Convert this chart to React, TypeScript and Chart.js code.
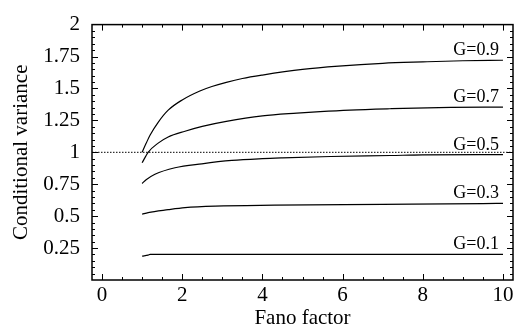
import { useEffect, useRef } from "react";
import { Chart, registerables } from "chart.js";

Chart.register(...registerables);

// ---- data ----
const xTickValues = [0, 2, 4, 6, 8, 10];
const yTickValues = [0.25, 0.5, 0.75, 1, 1.25, 1.5, 1.75, 2];
const seriesLabels = ["G=0.9", "G=0.7", "G=0.5", "G=0.3", "G=0.1"];

const fanoG09 = [1, 1.1, 1.2, 1.4, 1.65, 2.0, 2.44, 2.74, 3.1, 3.5, 4.0, 5.0, 5.9, 7.0, 8.0, 9.0, 10];
const varG09 = [1.0, 1.07, 1.136, 1.235, 1.33, 1.41, 1.48, 1.515, 1.548, 1.578, 1.605, 1.649, 1.675, 1.697, 1.708, 1.717, 1.721];

const fanoG07 = [1, 1.15, 1.4, 1.65, 2.07, 2.5, 3.1, 4.0, 4.86, 5.44, 6.18, 7.18, 8.7, 10];
const varG07 = [0.918, 1.0, 1.072, 1.12, 1.165, 1.203, 1.242, 1.285, 1.307, 1.319, 1.331, 1.341, 1.352, 1.354];

const fanoG05 = [1, 1.1, 1.32, 1.82, 2.49, 3.24, 4.0, 4.5, 5.7, 7.2, 8.0, 10];
const varG05 = [0.756, 0.785, 0.828, 0.879, 0.91, 0.936, 0.95, 0.956, 0.967, 0.975, 0.98, 0.982];

const fanoG03 = [1, 1.15, 1.65, 2.07, 2.82, 4.3, 7, 9.5, 10];
const varG03 = [0.515, 0.528, 0.551, 0.567, 0.579, 0.586, 0.592, 0.598, 0.6];

const fanoG01 = [1, 1.15, 1.2, 10];
const varG01 = [0.187, 0.195, 0.2, 0.2];

const refLineX = [-0.25, 10.25];
const refLineY = [1, 1];

const xRange = [-0.25, 10.25];
const yRange = [0, 2.0];

const FONT = "'Liberation Serif', 'Times New Roman', serif";

const zip = (xs: number[], ys: number[]) => xs.map((x, i) => ({ x, y: ys[i] }));

const frameTicks = {
  id: "frameTicks",
  afterDatasetsDraw(chart: any) {
    const { ctx, chartArea: a, scales } = chart;
    const x = scales.x;
    const y = scales.y;
    ctx.save();
    ctx.strokeStyle = "#000";
    ctx.lineWidth = 1;
    const seg = (x1: number, y1: number, x2: number, y2: number) => {
      ctx.beginPath();
      ctx.moveTo(x1, y1);
      ctx.lineTo(x2, y2);
      ctx.stroke();
    };
    for (let i = 0; i <= 20; i++) {
      const v = i * 0.5;
      const major = i % 4 === 0;
      const len = major ? 6 : 3;
      const px = Math.round(x.getPixelForValue(v)) + 0.5;
      seg(px, a.bottom, px, a.bottom - len);
      seg(px, a.top, px, a.top + len);
    }
    for (let i = 1; i < 40; i++) {
      const v = i * 0.05;
      const major = i % 5 === 0;
      const len = major ? 6 : 3;
      const py = Math.round(y.getPixelForValue(v)) + 0.5;
      seg(a.left, py, a.left + len, py);
      seg(a.right, py, a.right - len, py);
    }
    ctx.lineWidth = 1.5;
    ctx.strokeRect(a.left, a.top, a.right - a.left, a.bottom - a.top);

    // series labels
    ctx.fillStyle = "#000";
    ctx.font = `18px ${FONT}`;
    ctx.textAlign = "right";
    ctx.textBaseline = "alphabetic";
    for (let d = 0; d < seriesLabels.length; d++) {
      const pts = chart.data.datasets[d].data as any[];
      const last = pts[pts.length - 1];
      const px = x.getPixelForValue(last.x);
      const py = y.getPixelForValue(last.y);
      ctx.fillText(seriesLabels[d], px - 4, py - 5);
    }
    ctx.restore();
  },
};

export default function App() {
  const ref = useRef<HTMLCanvasElement | null>(null);
  useEffect(() => {
    if (!ref.current) return;
    const lineStyle = {
      borderColor: "#000",
      borderWidth: 1.2,
      pointRadius: 0,
      fill: false,
      cubicInterpolationMode: "monotone" as const,
    };
    const chart = new Chart(ref.current, {
      type: "line",
      data: {
        datasets: [
          { label: seriesLabels[0], data: zip(fanoG09, varG09), ...lineStyle },
          { label: seriesLabels[1], data: zip(fanoG07, varG07), ...lineStyle },
          { label: seriesLabels[2], data: zip(fanoG05, varG05), ...lineStyle },
          { label: seriesLabels[3], data: zip(fanoG03, varG03), ...lineStyle },
          { label: seriesLabels[4], data: zip(fanoG01, varG01), ...lineStyle },
          {
            label: "ref",
            data: zip(refLineX, refLineY),
            borderColor: "#000",
            borderWidth: 1,
            borderDash: [1.5, 1.5],
            pointRadius: 0,
            fill: false,
          },
        ],
      },
      options: {
        responsive: false,
        animation: false,
        devicePixelRatio: 1,
        layout: { padding: { top: 20, right: 10, left: 0, bottom: 0 } },
        plugins: { legend: { display: false }, tooltip: { enabled: false } },
        scales: {
          x: {
            type: "linear",
            min: xRange[0],
            max: xRange[1],
            offset: false,
            grid: { display: false, drawTicks: false },
            border: { display: false },
            afterBuildTicks: (s: any) => {
              s.ticks = xTickValues.map((v) => ({ value: v }));
            },
            afterFit: (s: any) => {
              s.height = 49;
            },
            ticks: {
              color: "#000",
              font: { family: FONT, size: 21 },
              padding: 3,
              maxRotation: 0,
              autoSkip: false,
              callback: (v: any) => String(v),
            },
            title: {
              display: true,
              text: "Fano factor",
              color: "#000",
              font: { family: FONT, size: 21, lineHeight: 1 },
              padding: { top: 0, bottom: 0 },
            },
          },
          y: {
            type: "linear",
            min: yRange[0],
            max: yRange[1],
            grid: { display: false, drawTicks: false },
            border: { display: false },
            afterBuildTicks: (s: any) => {
              s.ticks = yTickValues.map((v) => ({ value: v }));
            },
            afterFit: (s: any) => {
              s.width = 92;
            },
            ticks: {
              color: "#000",
              font: { family: FONT, size: 21 },
              padding: 12,
              autoSkip: false,
              callback: (v: any) => String(v),
            },
            title: {
              display: true,
              text: "Conditional variance",
              color: "#000",
              font: { family: FONT, size: 21, lineHeight: 1 },
              padding: { top: 10.5, bottom: 0 },
            },
          },
        },
      },
      plugins: [frameTicks],
    });
    return () => chart.destroy();
  }, []);
  return (
    <div style={{ position: "absolute", left: 0, top: 0, width: 523, height: 329, background: "#fff" }}>
      <canvas ref={ref} width={523} height={329} />
    </div>
  );
}
